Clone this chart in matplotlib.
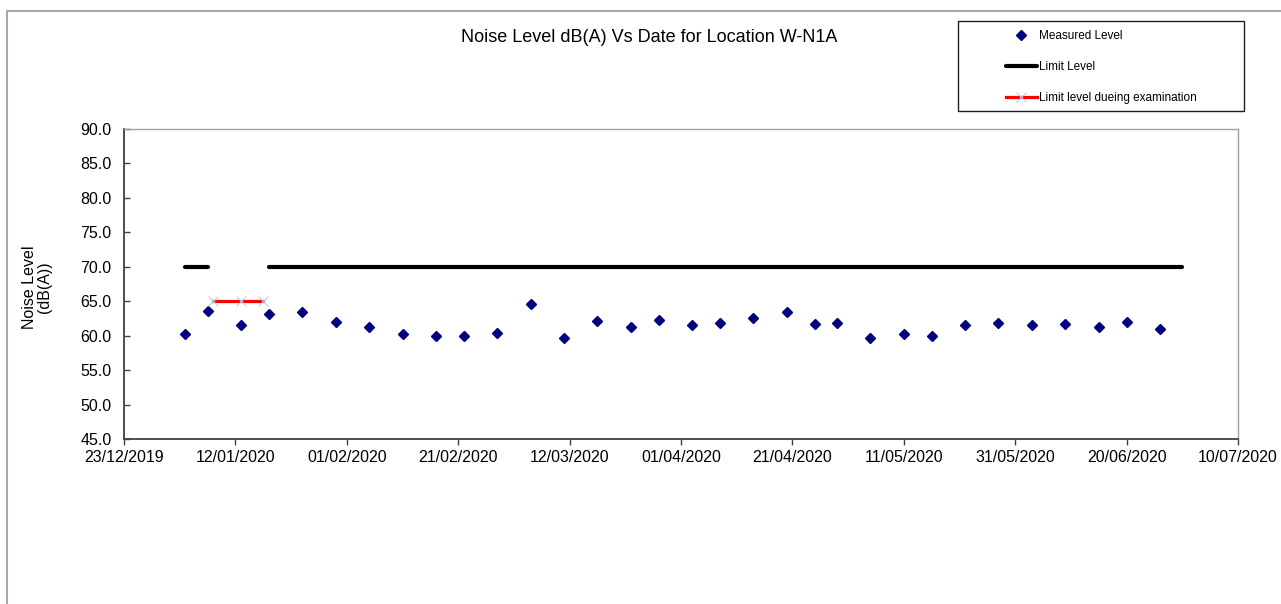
import matplotlib
matplotlib.use("Agg")
import matplotlib.pyplot as plt
import matplotlib.dates as mdates
from matplotlib.patches import Rectangle
import numpy as np
import pandas as pd

plt.rcParams['font.family'] = ['Liberation Sans', 'DejaVu Sans']

# ---- data ----
measured_dates = ['2020-01-03', '2020-01-07', '2020-01-13', '2020-01-18', '2020-01-24',
                  '2020-01-30', '2020-02-05', '2020-02-11', '2020-02-17', '2020-02-22',
                  '2020-02-28', '2020-03-05', '2020-03-11', '2020-03-17', '2020-03-23',
                  '2020-03-28', '2020-04-03', '2020-04-08', '2020-04-14', '2020-04-20',
                  '2020-04-25', '2020-04-29', '2020-05-05', '2020-05-11', '2020-05-16',
                  '2020-05-22', '2020-05-28', '2020-06-03', '2020-06-09', '2020-06-15',
                  '2020-06-20', '2020-06-26']
measured_levels = [60.3, 63.6, 61.6, 63.1, 63.5, 62.0, 61.2, 60.2, 60.0, 59.9,
                   60.4, 64.6, 59.6, 62.1, 61.2, 62.3, 61.5, 61.9, 62.5, 63.5,
                   61.7, 61.9, 59.7, 60.3, 59.9, 61.5, 61.9, 61.5, 61.7, 61.2,
                   62.0, 61.0]
limit_dates = measured_dates + ['2020-06-30']
limit_levels = [70, 70, np.nan] + [70] * (len(measured_dates) - 3) + [70]
exam_dates = ['2020-01-08', '2020-01-13', '2020-01-17']
exam_levels = [65, 65, 65]

title = 'Noise Level dB(A) Vs Date for Location W-N1A'
ylabel = 'Noise Level\n(dB(A))'
legend_labels = ['Measured Level', 'Limit Level', 'Limit level dueing examination']
x_start, x_end = '2019-12-23', '2020-07-10'
y_ticks = [45, 50, 55, 60, 65, 70, 75, 80, 85, 90]

W, H = 1281, 604
fig = plt.figure(figsize=(W / 100, H / 100), dpi=100)
ax = fig.add_axes([124 / W, 1 - 439 / H, (1238 - 124) / W, (439 - 129) / H])

md = pd.to_datetime(measured_dates)
ld = pd.to_datetime(limit_dates)
ed = pd.to_datetime(exam_dates)

h1, = ax.plot(md, measured_levels, linestyle='none', marker='D', markersize=5,
              color='#000080', label=legend_labels[0])
h2, = ax.plot(ld, limit_levels, color='black', linewidth=3.0,
              solid_capstyle='round', label=legend_labels[1])
h3, = ax.plot(ed, exam_levels, color='#ff0000', linewidth=2.3, marker='x',
              markersize=7, markeredgecolor='#c8c8e6', markeredgewidth=0.8,
              label=legend_labels[2])

ax.set_xlim(pd.Timestamp(x_start), pd.Timestamp(x_end))
ax.set_ylim(45, 90)
ax.set_yticks(y_ticks)
ax.yaxis.set_major_formatter(matplotlib.ticker.FormatStrFormatter('%.1f'))
xt = pd.date_range(x_start, x_end, freq='20D')
ax.set_xticks(xt)
ax.xaxis.set_major_formatter(mdates.DateFormatter('%d/%m/%Y'))

for s in ['left', 'bottom']:
    ax.spines[s].set_color('#404040')
    ax.spines[s].set_linewidth(1.3)
for s in ['top', 'right']:
    ax.spines[s].set_color('#a0a0a0')
    ax.spines[s].set_linewidth(1.0)

ax.tick_params(axis='x', direction='out', length=4, width=1, color='#404040',
               labelsize=11.5, pad=4)
ax.tick_params(axis='y', direction='in', length=4, width=1, color='#404040',
               labelsize=11.5, pad=9)

fig.text(649.5 / W, 1 - 38 / H, title, ha='center', va='center', fontsize=13)
fig.text(37 / W, 1 - 287 / H, ylabel, ha='center', va='center', rotation=90,
         fontsize=11.5, multialignment='center', linespacing=1.0)

# outer chart border
fig.patches.append(Rectangle((7 / W, -0.1), 1.2, 1 - 11 / H + 0.1,
                             transform=fig.transFigure, fill=False,
                             edgecolor='#a8a8a8', linewidth=1.5))
# legend box
fig.patches.append(Rectangle((958 / W, 1 - 111 / H), (1244 - 958) / W, (111 - 21) / H,
                             transform=fig.transFigure, fill=False,
                             edgecolor='#202020', linewidth=1.0))
fig.legend(handles=[h1, h2, h3], loc='upper left',
           bbox_to_anchor=(1006 / W, 1 - 30 / H), frameon=False, borderpad=0,
           borderaxespad=0, fontsize=8.5, handlelength=2.6, handletextpad=0.2,
           labelspacing=1.6, numpoints=1)

fig.savefig('out.png', dpi=100)
